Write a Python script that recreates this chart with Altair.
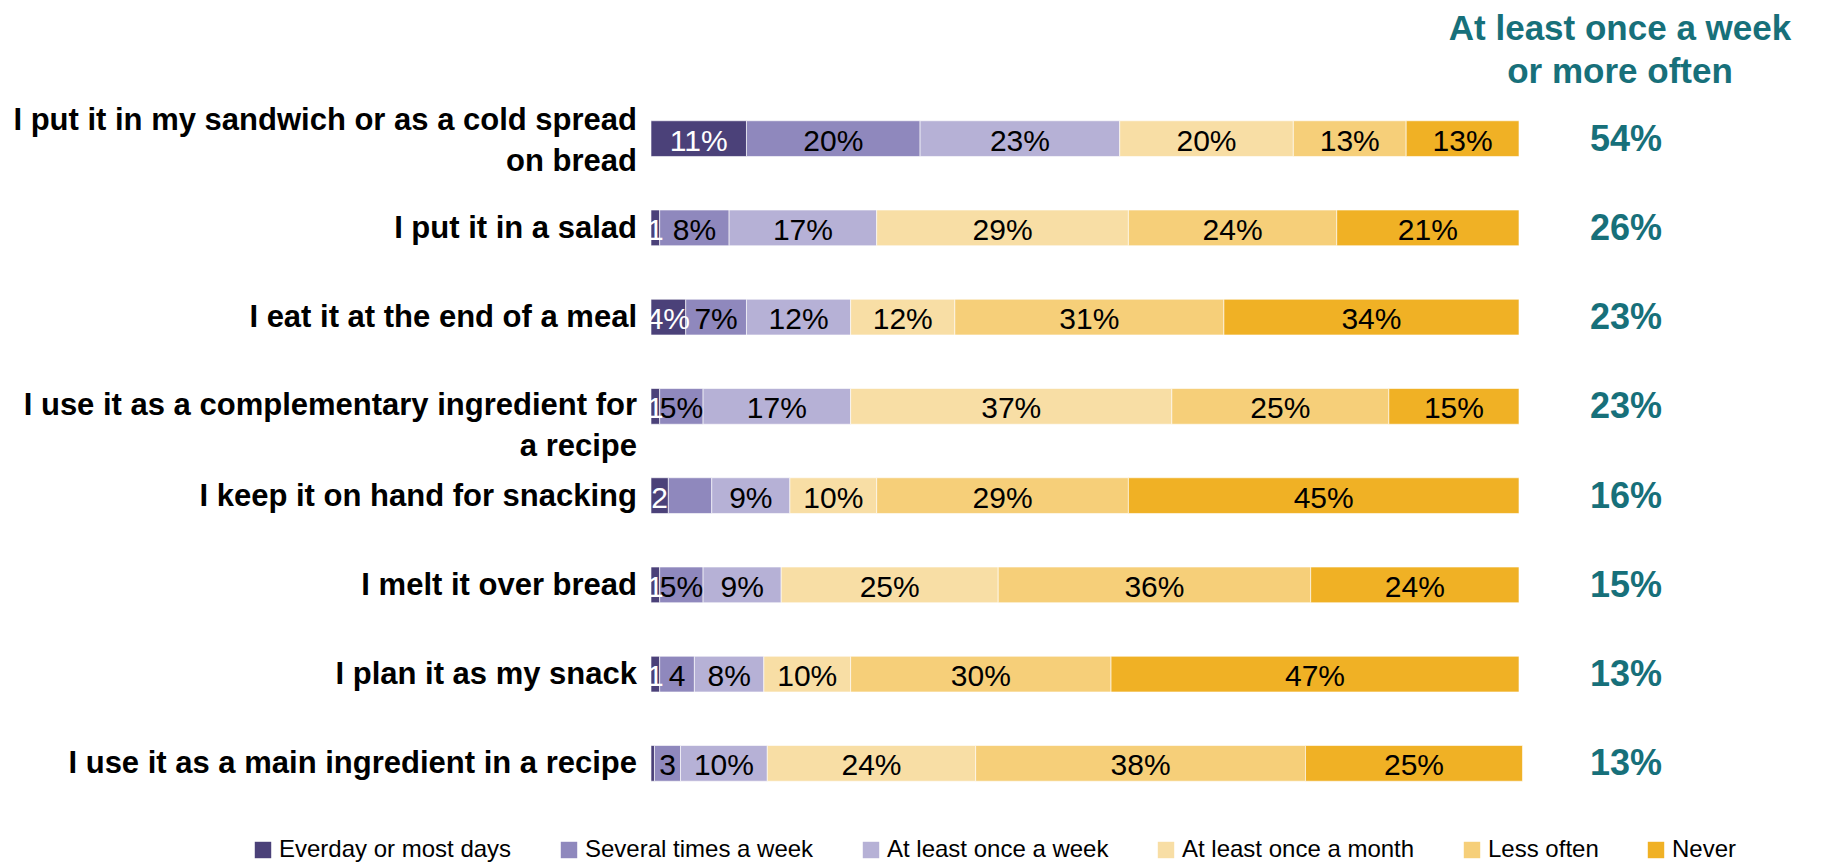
import altair as alt
import pandas as pd

categories = [
    "I put it in my sandwich or as a cold spread on bread",
    "I put it in a salad",
    "I eat it at the end of a meal",
    "I use it as a complementary ingredient for a recipe",
    "I keep it on hand for snacking",
    "I melt it over bread",
    "I plan it as my snack",
    "I use it as a main ingredient in a recipe",
]
cat_line1 = [
    "I put it in my sandwich or as a cold spread",
    "I put it in a salad",
    "I eat it at the end of a meal",
    "I use it as a complementary ingredient for",
    "I keep it on hand for snacking",
    "I melt it over bread",
    "I plan it as my snack",
    "I use it as a main ingredient in a recipe",
]
cat_line2 = ["on bread", "", "", "a recipe", "", "", "", ""]

frequencies = [
    "Everday or most days",
    "Several times a week",
    "At least once a week",
    "At least once a month",
    "Less often",
    "Never",
]
colors = ["#4b4179", "#8f88bd", "#b6b1d6", "#f8dea5", "#f6cf79", "#f0b125"]

v_daily = [11, 1, 4, 1, 2, 1, 1, 0.4]
v_several = [20, 8, 7, 5, 5, 5, 4, 3]
v_weekly = [23, 17, 12, 17, 9, 9, 8, 10]
v_monthly = [20, 29, 12, 37, 10, 25, 10, 24]
v_less = [13, 24, 31, 25, 29, 36, 30, 38]
v_never = [13, 21, 34, 15, 45, 24, 47, 25]

l_daily = ["11%", "1", "4%", "1", "2", "1", "1", ""]
l_several = ["20%", "8%", "7%", "5%", "", "5%", "4", "3"]
l_weekly = ["23%", "17%", "12%", "17%", "9%", "9%", "8%", "10%"]
l_monthly = ["20%", "29%", "12%", "37%", "10%", "25%", "10%", "24%"]
l_less = ["13%", "24%", "31%", "25%", "29%", "36%", "30%", "38%"]
l_never = ["13%", "21%", "34%", "15%", "45%", "24%", "47%", "25%"]

weekly_plus = ["54%", "26%", "23%", "23%", "16%", "15%", "13%", "13%"]
title_lines = ["At least once a week", "or more often"]

values = [v_daily, v_several, v_weekly, v_monthly, v_less, v_never]
labels = [l_daily, l_several, l_weekly, l_monthly, l_less, l_never]

rows = []
for fi, f in enumerate(frequencies):
    for ci, c in enumerate(categories):
        rows.append({"category": c, "freq": f, "order": fi,
                     "value": values[fi][ci], "label": labels[fi][ci]})
df = pd.DataFrame(rows)

cat_df = pd.DataFrame({"category": categories, "line1": cat_line1,
                       "line2": cat_line2, "plus": weekly_plus})

FONT = "Liberation Sans"
TEAL = "#17707a"
CAT_SIZE = 31

y_enc = alt.Y("category:N", sort=categories, axis=None,
              scale=alt.Scale(paddingInner=0.6, paddingOuter=0.3))

base = alt.Chart(df).transform_stack(
    stack="value", groupby=["category"], sort=[{"field": "order"}], as_=["x0", "x1"]
).transform_calculate(mid="(datum.x0 + datum.x1) / 2")

bars = base.mark_bar(stroke="#ffffff", strokeWidth=0.6).encode(
    x=alt.X("x0:Q", scale=alt.Scale(domain=[0, 100], nice=False, zero=True), axis=None),
    x2="x1:Q",
    y=y_enc,
    color=alt.Color(
        "freq:N",
        scale=alt.Scale(domain=frequencies, range=colors),
        sort=frequencies,
        legend=alt.Legend(
            title=None, orient="none", direction="horizontal",
            legendX=-400, legendY=744,
            symbolType="square", symbolSize=270, symbolStrokeWidth=0,
            symbolOpacity=1,
            labelFont=FONT, labelFontSize=24, labelColor="#000000",
            labelOffset=4, columnPadding=45, labelLimit=400,
        ),
    ),
)

bar_text = base.mark_text(font=FONT, fontSize=30, baseline="middle", align="center", dy=3).encode(
    x=alt.X("mid:Q"),
    y=y_enc,
    text="label:N",
    color=alt.condition("datum.order == 0", alt.value("#ffffff"), alt.value("#000000")),
)

def cat_text(filt, field, dy):
    return alt.Chart(cat_df).transform_filter(filt).mark_text(
        font=FONT, fontSize=CAT_SIZE, fontWeight="bold", align="right",
        baseline="middle", dy=dy, color="#000000"
    ).encode(x=alt.value(-14), y=y_enc, text=f"{field}:N")

single = cat_text("datum.line2 == ''", "line1", 1)
row1_a = cat_text(alt.datum.category == categories[0], "line1", -18)
row1_b = cat_text(alt.datum.category == categories[0], "line2", 23)
row4_a = cat_text(alt.datum.category == categories[3], "line1", 0)
row4_b = cat_text(alt.datum.category == categories[3], "line2", 41)

plus_text = alt.Chart(cat_df).mark_text(
    font=FONT, fontSize=36, fontWeight="bold", align="center", baseline="middle", color=TEAL, dy=1
).encode(x=alt.value(975), y=y_enc, text="plus:N")

title_df = pd.DataFrame({"t": title_lines, "i": [0, 1]})
title1 = alt.Chart(title_df).transform_filter("datum.i == 0").mark_text(
    font=FONT, fontSize=35, fontWeight="bold", align="center", baseline="middle", color=TEAL
).encode(x=alt.value(969), y=alt.value(-65), text="t:N")
title2 = alt.Chart(title_df).transform_filter("datum.i == 1").mark_text(
    font=FONT, fontSize=35, fontWeight="bold", align="center", baseline="middle", color=TEAL
).encode(x=alt.value(969), y=alt.value(-22), text="t:N")

chart = alt.layer(
    bars, bar_text, single, row1_a, row1_b, row4_a, row4_b, plus_text, title1, title2
).properties(
    width=868, height=714,
    autosize=alt.AutoSizeParams(type="none"),
    padding={"left": 643, "top": 86, "right": 290, "bottom": 56},
).configure(background="#ffffff").configure_view(stroke=None)

chart.save("out.html", embed_options={"renderer": "svg", "actions": False})
